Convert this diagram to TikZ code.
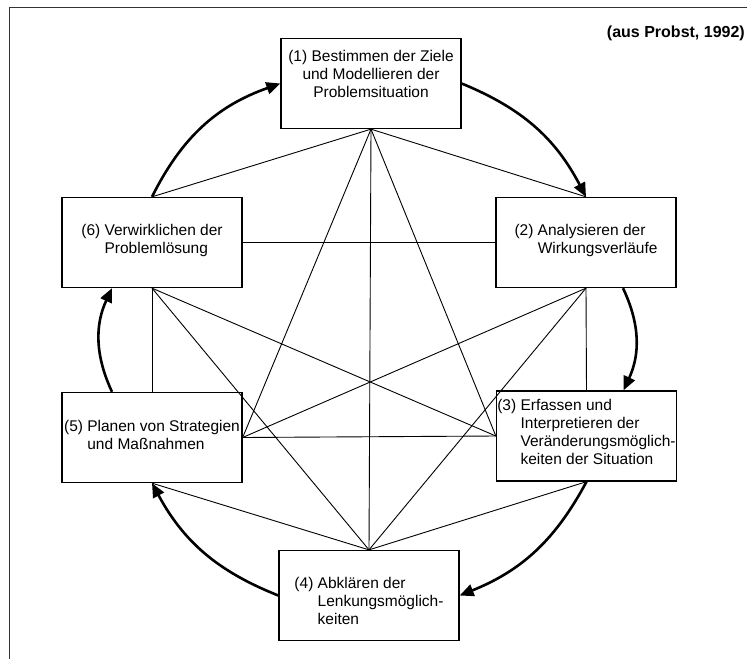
\documentclass[tikz,border=0pt]{standalone}
\usepackage{fontspec}
\setmainfont{Liberation Sans}
\usetikzlibrary{arrows.meta}
\begin{document}
\begin{tikzpicture}[x=1pt,y=-1pt,
  stepbox/.style={draw, line width=1.3pt, minimum width=180pt, minimum height=90pt, inner sep=0pt},
  boxtext/.style={font=\fontsize{15.5}{18}\selectfont, align=left, inner sep=0pt},
  link/.style={line width=0.9pt},
  cyclearc/.style={line width=2.6pt, -{Triangle[length=14pt,width=12pt]}},
]
\useasboundingbox (0,0) rectangle (747,659);
% frame
\draw[line width=1.6pt, black!80] (9.5,659) -- (9.5,7.3) -- (747,7.3);
\node[font=\bfseries\fontsize{16}{19}\selectfont, anchor=base east, inner sep=0pt] (src) at (745,37) {(aus Probst, 1992)};

% the six steps
\node[stepbox] (b1) at (371,83.5) {};
\node[stepbox] (b2) at (586,242.5) {};
\node[stepbox] (b3) at (586.5,436) {};
\node[stepbox] (b4) at (369,595.5) {};
\node[stepbox] (b5) at (152,437.5) {};
\node[stepbox] (b6) at (152,242.5) {};

\node[boxtext, align=center] (t1) at ([yshift=10pt]b1.center)
  {(1) Bestimmen der Ziele\\und Modellieren der\\Problemsituation};
\node[boxtext] (t2) at ([yshift=2pt]b2.center)
  {(2) Analysieren der\\\hphantom{(2) }Wirkungsverläufe};
\node[boxtext] (t3) at ([yshift=4pt]b3.center)
  {(3) Erfassen und\\\hphantom{(3) }Interpretieren der\\\hphantom{(3) }Veränderungsmöglich-\\\hphantom{(3) }keiten der Situation};
\node[boxtext] (t4) at ([yshift=-5pt]b4.center)
  {(4) Abklären der\\\hphantom{(4) }Lenkungsmöglich-\\\hphantom{(4) }keiten};
\node[boxtext] (t5) at ([yshift=3pt]b5.center)
  {(5) Planen von Strategien\\\hphantom{(5) }und Maßnahmen};
\node[boxtext] (t6) at ([yshift=2pt]b6.center)
  {(6) Verwirklichen der\\\hphantom{(6) }Problemlösung};

% every step linked with every other
\draw[link] (b1.south) -- (b6.north);
\draw[link] (b1.south) -- (b2.north);
\draw[link] (b1.south) -- (b5.east);
\draw[link] (b1.south) -- (b3.west);
\draw[link] (b1.south) -- (b4.north);
\draw[link] (b6.east) -- (b2.west);
\draw[link] (b6.south) -- (b5.north);
\draw[link] (b6.south) -- (b3.west);
\draw[link] (b6.south) -- (b4.north);
\draw[link] (b2.south) -- (b3.north);
\draw[link] (b2.south) -- (b5.east);
\draw[link] (b2.south) -- (b4.north);
\draw[link] (b5.east) -- (b3.west);
\draw[link] (b5.south) -- (b4.north);
\draw[link] (b3.south) -- (b4.north);

% the cycle
\coordinate (c2out) at ([xshift=37pt]b2.south);
\coordinate (c3in) at ([xshift=37pt]b3.north);
\coordinate (c5out) at ([xshift=-40pt]b5.north);
\coordinate (c6in) at ([xshift=-40pt]b6.south);
\draw[cyclearc] (b6.north) to[bend left=22] (b1.west);
\draw[cyclearc] (b1.east) to[bend left=20] (b2.north);
\draw[cyclearc] (c2out) to[bend left=25] (c3in);
\draw[cyclearc] (b3.south) to[bend left=20] (b4.east);
\draw[cyclearc] (b4.west) to[bend left=20] (b5.south);
\draw[cyclearc] (c5out) to[bend left=25] (c6in);
\end{tikzpicture}
\end{document}
